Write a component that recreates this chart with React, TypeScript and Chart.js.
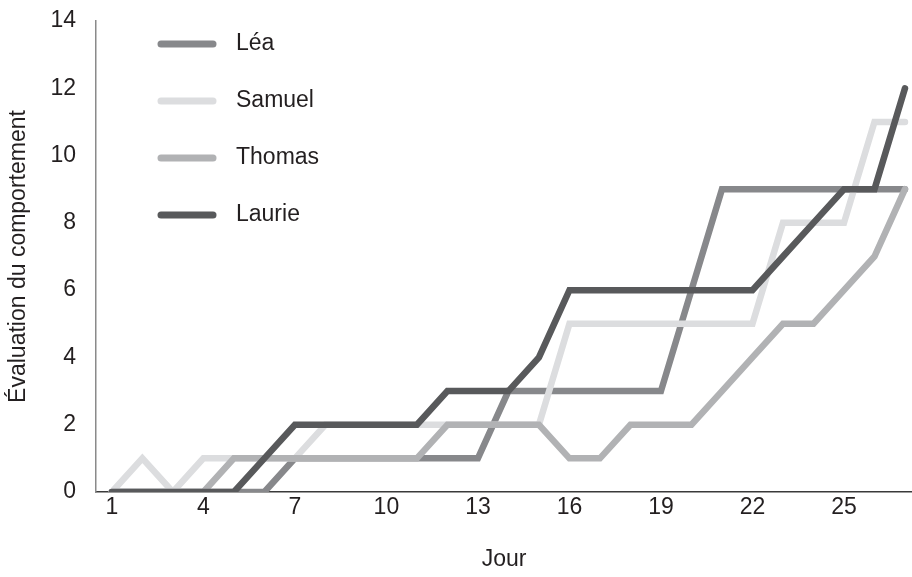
import React, { useEffect, useRef } from "react";
import { Chart, registerables } from "chart.js";

Chart.register(...registerables);

// ---- data ----
const days = [1, 2, 3, 4, 5, 6, 7, 8, 9, 10, 11, 12, 13, 14, 15, 16, 17, 18, 19, 20, 21, 22, 23, 24, 25, 26, 27];
const lea = [0, 0, 0, 0, 0, 0, 1, 1, 1, 1, 1, 1, 1, 3, 3, 3, 3, 3, 3, 6, 9, 9, 9, 9, 9, 9, 9];
const samuel = [0, 1, 0, 1, 1, 1, 1, 2, 2, 2, 2, 2, 2, 2, 2, 5, 5, 5, 5, 5, 5, 5, 8, 8, 8, 11, 11];
const thomas = [0, 0, 0, 0, 1, 1, 1, 1, 1, 1, 1, 2, 2, 2, 2, 1, 1, 2, 2, 2, 3, 4, 5, 5, 6, 7, 9];
const laurie = [0, 0, 0, 0, 0, 1, 2, 2, 2, 2, 2, 3, 3, 3, 4, 6, 6, 6, 6, 6, 6, 6, 7, 8, 9, 9, 12];
const seriesNames = ["Léa", "Samuel", "Thomas", "Laurie"];
const seriesValues = [lea, samuel, thomas, laurie];
const seriesColors = ["#87888b", "#dcdddf", "#b1b2b4", "#58595b"];
const dayTicks = [1, 4, 7, 10, 13, 16, 19, 22, 25];
const yTicks = [0, 2, 4, 6, 8, 10, 12, 14];
const xTitle = "Jour";
const yTitle = "Évaluation du comportement";

const FONT = "'Liberation Sans', Arial, sans-serif";
const TEXT = "#231f20";
const FS = 23;

const insideLegend = {
  id: "insideLegend",
  afterDatasetsDraw(chart: any) {
    const { ctx, chartArea } = chart;
    ctx.save();
    chart.data.datasets.forEach((ds: any, i: number) => {
      const y = chartArea.top + 23 + i * 57;
      const x0 = chartArea.left + 65;
      ctx.beginPath();
      ctx.strokeStyle = ds.borderColor;
      ctx.lineWidth = 7;
      ctx.lineCap = "round";
      ctx.moveTo(x0, y);
      ctx.lineTo(x0 + 52, y);
      ctx.stroke();
      ctx.fillStyle = TEXT;
      ctx.font = `${FS}px ${FONT}`;
      ctx.textBaseline = "middle";
      ctx.textAlign = "left";
      ctx.fillText(ds.label, chartArea.left + 140, y);
    });
    ctx.restore();
  },
};

export default function App() {
  const ref = useRef<HTMLCanvasElement | null>(null);

  useEffect(() => {
    if (!ref.current) return;
    const chart = new Chart(ref.current, {
      type: "line",
      data: {
        datasets: seriesNames.map((name, i) => ({
          label: name,
          data: days.map((d, j) => ({ x: d, y: seriesValues[i][j] })),
          borderColor: seriesColors[i],
          backgroundColor: seriesColors[i],
          borderWidth: 6.5,
          borderCapStyle: "round",
          borderJoinStyle: "miter",
          pointRadius: 0,
          tension: 0,
          fill: false,
          order: seriesNames.length - 1 - i,
        })),
      },
      options: {
        animation: false,
        responsive: true,
        maintainAspectRatio: false,
        layout: { padding: { top: 21, right: 0, bottom: 0, left: 0 } },
        plugins: {
          legend: { display: false },
          tooltip: { enabled: false },
        },
        scales: {
          x: {
            type: "linear",
            min: 0.48,
            max: 27.23,
            afterBuildTicks: (scale: any) => {
              scale.ticks = dayTicks.map((v) => ({ value: v }));
            },
            afterFit: (scale: any) => {
              scale.height = 85;
              scale.paddingLeft = 0;
              scale.paddingRight = 0;
            },
            grid: { display: false, drawTicks: false },
            border: { display: true, color: "#3a3a3a", width: 1.5 },
            ticks: {
              padding: 2,
              color: TEXT,
              font: { family: FONT, size: FS },
              callback: (v: any) => String(v),
            },
            title: {
              display: true,
              text: xTitle,
              color: TEXT,
              font: { family: FONT, size: FS },
              padding: { top: 0, bottom: 4 },
            },
          },
          y: {
            min: 0,
            max: 14,
            afterBuildTicks: (scale: any) => {
              scale.ticks = yTicks.map((v) => ({ value: v }));
            },
            afterFit: (scale: any) => {
              scale.width = 96;
              scale.paddingTop = 0;
              scale.paddingBottom = 0;
            },
            grid: { display: false, drawTicks: false },
            border: { display: true, color: "#8a8a8a", width: 1.5 },
            ticks: {
              padding: 20,
              color: TEXT,
              font: { family: FONT, size: FS },
            },
            title: {
              display: true,
              text: yTitle,
              color: TEXT,
              font: { family: FONT, size: FS },
              padding: { top: 5, bottom: 0 },
            },
          },
        },
      },
      plugins: [insideLegend],
    });
    return () => chart.destroy();
  }, []);

  return (
    <div style={{ position: "absolute", left: 0, top: 0, width: 912, height: 577, background: "#fff" }}>
      <canvas ref={ref} />
    </div>
  );
}
